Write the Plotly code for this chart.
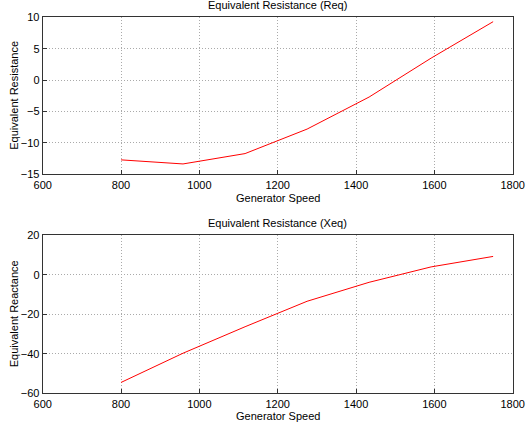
import plotly.graph_objects as go

speed = [800, 958.3, 1116.7, 1275, 1433.3, 1591.7, 1750]
req = [-12.7, -13.35, -11.7, -7.8, -2.7, 3.5, 9.3]
xeq = [-54.5, -39.7, -26.3, -13.4, -3.8, 4.0, 9.3]

fig = go.Figure()
fig.add_trace(go.Scatter(x=speed, y=req, mode="lines", line=dict(color="#ff0000", width=1), xaxis="x", yaxis="y"))
fig.add_trace(go.Scatter(x=speed, y=xeq, mode="lines", line=dict(color="#ff0000", width=1), xaxis="x2", yaxis="y2"))

font = dict(family="Liberation Sans, Arial, sans-serif", size=11, color="black")
axcommon = dict(showline=True, linecolor="#333333", linewidth=1, mirror=True, ticks="inside", ticklen=4,
                tickcolor="#333333", showgrid=True, gridcolor="#aaaaaa", griddash="1px,2px", gridwidth=1,
                zeroline=False, tickfont=font, automargin=False)

xd = [42.7/529, 512.7/529]
yd1 = [1-174.3/428, 1-17.3/428]
yd2 = [1-393.3/428, 1-235.3/428]
xc = (xd[0]+xd[1])/2
fig.update_layout(
    width=529, height=428, margin=dict(l=0, r=0, t=0, b=0),
    paper_bgcolor="white", plot_bgcolor="white", showlegend=False, font=font,
    xaxis=dict(domain=xd, range=[600, 1800], dtick=200, anchor="y", **axcommon),
    yaxis=dict(domain=yd1, range=[-15, 10], dtick=5, anchor="x", **axcommon),
    xaxis2=dict(domain=xd, range=[600, 1800], dtick=200, anchor="y2", **axcommon),
    yaxis2=dict(domain=yd2, range=[-60, 20], dtick=20, anchor="x2", **axcommon),
    annotations=[
        dict(text="Equivalent Resistance (Req)", x=xc, y=1-5/428, xref="paper", yref="paper",
             showarrow=False, font=font, xanchor="center", yanchor="middle"),
        dict(text="Equivalent Resistance (Xeq)", x=xc, y=1-223/428, xref="paper", yref="paper",
             showarrow=False, font=font, xanchor="center", yanchor="middle"),
        dict(text="Generator Speed", x=xc, y=1-198/428, xref="paper", yref="paper",
             showarrow=False, font=font, xanchor="center", yanchor="middle"),
        dict(text="Generator Speed", x=xc, y=1-416/428, xref="paper", yref="paper",
             showarrow=False, font=font, xanchor="center", yanchor="middle"),
        dict(text="Equivalent Resistance", x=14/529, y=(yd1[0]+yd1[1])/2, xref="paper", yref="paper",
             showarrow=False, font=font, xanchor="center", yanchor="middle", textangle=-90),
        dict(text="Equivalent Reactance", x=14/529, y=(yd2[0]+yd2[1])/2, xref="paper", yref="paper",
             showarrow=False, font=font, xanchor="center", yanchor="middle", textangle=-90),
    ],
)
fig.write_html("out.html")
